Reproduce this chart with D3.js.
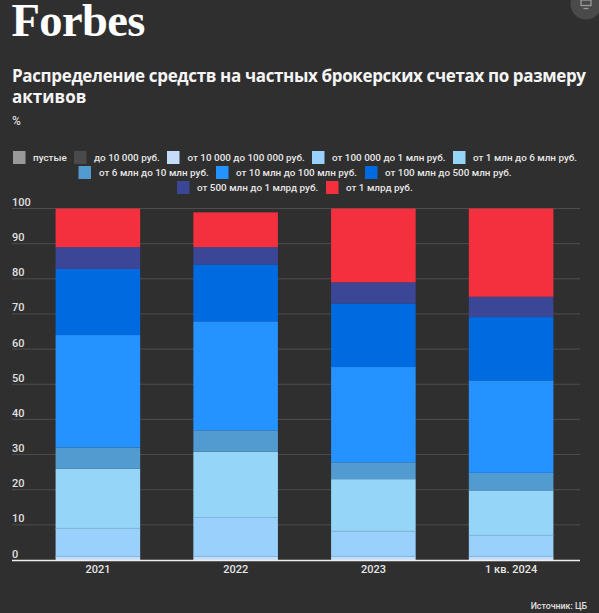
<!DOCTYPE html>
<html><head><meta charset="utf-8">
<script src="https://cdn.jsdelivr.net/npm/d3@7"></script>
<style>
html,body{margin:0;padding:0;background:#2f2f2f;overflow:hidden}
svg{display:block}
text{font-family:Roboto,sans-serif}
</style></head><body><div id="c"></div>
<script>
const categories=["2021","2022","2023","1 кв. 2024"];
const seriesNames=["пустые","до 10 000 руб.","от 10 000 до 100 000 руб.","от 100 000 до 1 млн руб.","от 1 млн до 6 млн руб.","от 6 млн до 10 млн руб.","от 10 млн до 100 млн руб.","от 100 млн до 500 млн руб.","от 500 млн до 1 млрд руб.","от 1 млрд руб."];
const colors=["#999999","#4a4a4a","#c4dcf5","#99d0fc","#94d5f8","#529bd0","#2492ff","#006ae0","#3b4696","#f4303e"];
const empty=[0,0,0,0];
const under10k=[0,0,0,0];
const from10k=[1,1,1,1];
const from100k=[8,11.1,7.2,6];
const from1m=[17,18.7,14.8,12.8];
const from6m=[6,6.1,4.8,5];
const from10m=[32,31,27.1,26.3];
const from100m=[18.8,16.2,18.1,18];
const from500m=[6.2,4.9,6,5.8];
const from1b=[11,9.9,21,25.1];
const seriesValues=[empty,under10k,from10k,from100k,from1m,from6m,from10m,from100m,from500m,from1b];
const yTicks=[0,10,20,30,40,50,60,70,80,90,100];
const legendRows=[[0,1,2,3,4],[5,6,7],[8,9]];

const W=599,H=613;
const svg=d3.select("#c").append("svg").attr("width",W).attr("height",H);
svg.append("rect").attr("width",W).attr("height",H).attr("fill","#2f2f2f");

// header
svg.append("circle").attr("cx",586).attr("cy",4).attr("r",15.5).attr("fill","#4a4a4a");
const ic=svg.append("g").attr("fill","none").attr("stroke","#9a9a9a").attr("stroke-width",1.3);
ic.append("rect").attr("x",581).attr("y",0).attr("width",10).attr("height",5.5);
ic.append("path").attr("d","M583.5 8.5h5");
svg.append("text").attr("x",11.5).attr("y",36).attr("fill","#fff").attr("font-size",46.5)
  .attr("font-weight",700).attr("letter-spacing",-0.6).style("font-family","'Liberation Serif',serif").text("Forbes");
svg.append("text").attr("x",12).attr("y",82).attr("fill","#f5f5f5").attr("font-size",17).attr("font-weight",700)
  .attr("textLength",574).attr("lengthAdjust","spacing")
  .style("font-family","'Open Sans',sans-serif").text("Распределение средств на частных брокерских счетах по размеру");
svg.append("text").attr("x",12).attr("y",103).attr("fill","#f5f5f5").attr("font-size",17).attr("font-weight",700)
  .style("font-family","'Open Sans',sans-serif").text("активов");
svg.append("text").attr("x",12).attr("y",125).attr("fill","#ddd").attr("font-size",12).attr("font-weight",500).text("%");

// legend
const legendY=[151,166,181];
const legendX=[[13,74,167,312,453],[78.5,216,365],[177,326]];
const legendTextX=[[33,94,187.5,332,473],[99,236,385],[197,346]];
legendRows.forEach((row,r)=>{
  row.forEach((s,i)=>{
    svg.append("rect").attr("x",legendX[r][i]).attr("y",legendY[r]).attr("width",12.5).attr("height",13).attr("fill",colors[s]);
    svg.append("text").attr("x",legendTextX[r][i]).attr("y",legendY[r]+9.8).attr("fill","#e6e6e6")
     .attr("font-size",9.9).attr("font-weight",500).text(seriesNames[s]);
  });
});

// chart
const x=d3.scaleBand().domain(categories).range([29,580]).paddingInner(0.386).paddingOuter(0.193);
const y=d3.scaleLinear().domain([0,100]).range([560,208.5]);
const gridG=svg.append("g");
gridG.selectAll("line").data(yTicks.filter(t=>t>0)).join("line")
  .attr("x1",12).attr("x2",580).attr("y1",d=>y(d)).attr("y2",d=>y(d)).attr("stroke","#4d4d4d").attr("stroke-width",1);

const rows=categories.map((c,i)=>{const o={cat:c};seriesNames.forEach((n,s)=>o[n]=seriesValues[s][i]);return o;});
const stacked=d3.stack().keys(seriesNames)(rows);
svg.append("g").selectAll("g").data(stacked).join("g").attr("fill",(d,i)=>colors[i])
  .selectAll("rect").data(d=>d.filter(p=>p[1]>p[0])).join("rect")
  .attr("x",d=>x(d.data.cat)).attr("width",x.bandwidth())
  .attr("y",d=>y(d[1])).attr("height",d=>y(d[0])-y(d[1]));

// thin separators between light segments
svg.append("g").selectAll("g").data(stacked.slice(2,4)).join("g")
  .selectAll("line").data(d=>d).join("line")
  .attr("x1",d=>x(d.data.cat)).attr("x2",d=>x(d.data.cat)+x.bandwidth())
  .attr("y1",d=>y(d[1])).attr("y2",d=>y(d[1])).attr("stroke","#85b8dc").attr("stroke-width",1);

// axes
const yAxis=d3.axisLeft(y).tickValues(yTicks).tickSize(0);
const yG=svg.append("g").attr("transform","translate(12,0)").call(yAxis);
yG.select(".domain").remove();
yG.selectAll("text").attr("x",0).attr("dy",null).attr("y",-3).attr("text-anchor","start")
  .attr("fill","#e0e0e0").attr("font-size",11).attr("font-weight",500);
const xAxis=d3.axisBottom(x).tickSize(0);
const xG=svg.append("g").attr("transform","translate(0,560)").call(xAxis);
xG.select(".domain").remove();
xG.selectAll("text").attr("y",5).attr("dy","0.71em").attr("fill","#e6e6e6").attr("font-size",11).attr("font-weight",500);
svg.append("line").attr("x1",12).attr("x2",580).attr("y1",560.5).attr("y2",560.5).attr("stroke","#eeeeee").attr("stroke-width",1.4);

svg.append("text").attr("x",587).attr("y",609).attr("text-anchor","end").attr("fill","#e0e0e0").attr("font-size",8.8).attr("font-weight",500).text("Источник: ЦБ");
</script></body></html>
